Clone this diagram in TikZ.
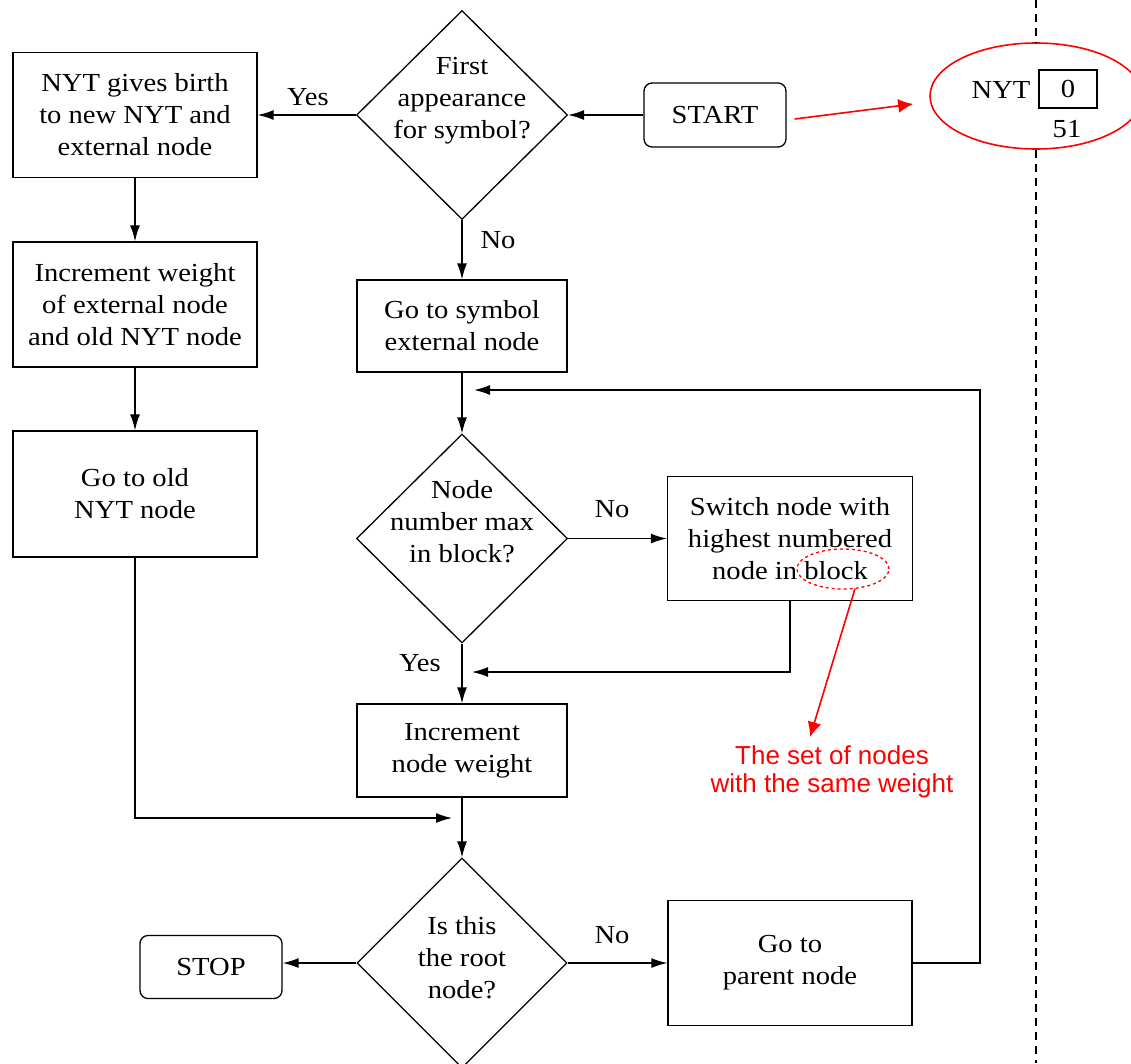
\documentclass[tikz,border=0pt]{standalone}
\usepackage{fontspec}
\setmainfont{Liberation Serif}[FakeStretch=1.1]
\newfontfamily\redfont{Liberation Sans}
\usetikzlibrary{shapes.geometric,arrows.meta,calc}
\begin{document}
\begin{tikzpicture}[x=1pt,y=-1pt,
  every node/.style={font=\fontsize{26}{32}\selectfont, align=center, inner sep=0pt},
  box/.style={draw, line width=1.3pt},
  rbox/.style={draw, line width=1.3pt, rounded corners=8pt, minimum width=142, minimum height=64},
  dia/.style={draw, line width=1.3pt, diamond, minimum width=211, minimum height=209},
  arr/.style={line width=1.4pt, -{Latex[length=16pt,width=10pt]}},
  redarr/.style={red, line width=1.6pt, -{Latex[length=15pt,width=14pt]}},
  lbl/.style={},
  divider/.style={line width=1.3pt, dash pattern=on 8pt off 6pt}
]
\clip (0,0) rectangle (1131,1063);
% left column
\node[box, minimum width=244, minimum height=125] (nyt) at (135,115) {NYT gives birth\\to new NYT and\\external node};
\node[box, minimum width=244, minimum height=125] (incw) at (135,304.5) {Increment weight\\of external node\\and old NYT node};
\node[box, minimum width=244, minimum height=126] (oldnyt) at (135,494) {Go to old\\NYT node};
% centre column
\node[dia] (d1) at (462,115) {};
\node (d1t) at (462,101) {First\\appearance\\for symbol?};
\node[box, minimum width=210, minimum height=92] (goto) at (462,326) {Go to symbol\\external node};
\node[dia] (d2) at (462,538.5) {};
\node (d2t) at (462,522) {Node\\number max\\in block?};
\node[box, minimum width=210, minimum height=93] (incn) at (462,750.5) {Increment\\node weight};
\node[dia, minimum width=210, minimum height=210] (d3) at (462,963) {};
\node (d3t) at (462,958) {Is this\\the root\\node?};
% right column
\node[rbox] (start) at (715,115) {START};
\node[box, minimum width=245, minimum height=124] (sw) at (790,538.5) {Switch node with\\highest numbered\\node in block};
\node[box, minimum width=244, minimum height=125] (parent) at (790,963) {Go to\\parent node};
\node[rbox, minimum height=63] (stop) at (211,967) {STOP};
% labels
\node[lbl] (yes1) at (308,97) {Yes};
\node[lbl] (no1) at (498,240) {No};
\node[lbl] (no2) at (612,509) {No};
\node[lbl] (yes2) at (420,663) {Yes};
\node[lbl] (no3) at (612,935) {No};
% junction coordinates
\coordinate (j1) at (452,818);
\coordinate (j2) at (472,672);
\coordinate (c1) at (980,390);
\coordinate (j3) at (474,390);
% connectors
\draw[arr] (d1.west) -- (nyt.east);
\draw[arr] (start.west) -- (d1.east);
\draw[arr] (d1.south) -- (goto.north);
\draw[arr] (nyt.south) -- (incw.north);
\draw[arr] (incw.south) -- (oldnyt.north);
\draw[arr] (goto.south) -- (d2.north);
\draw[arr] (d2.east) -- (sw.west);
\draw[arr] (d2.south) -- (incn.north);
\draw[arr] (sw.south) |- (j2);
\draw[arr] (incn.south) -- (d3.north);
\draw[arr] (oldnyt.south) |- (j1);
\draw[arr] (d3.west) -- (d3.west -| stop.east);
\draw[arr] (d3.east) -- (parent.west);
\draw[arr] (parent.east) -| (c1) -- (j3);
% annotations
\node[draw=red, line width=1.6pt, ellipse, minimum width=212, minimum height=106] (nytell) at (1036,96) {};
\node (mnyt) at (1001,90) {NYT};
\node[draw, line width=1.2pt, minimum width=58, minimum height=38] (m0) at (1068,89) {0};
\node (m51) at (1067,129) {51};
\coordinate (dtop) at (1036,0);
\coordinate (dbot) at (1036,1063);
\draw[divider] (dtop) -- (nytell.north);
\draw[divider] (nytell.south) -- (dbot);
\draw[redarr] ([xshift=8pt,yshift=-4pt]start.east) -- ([xshift=-16pt,yshift=-8pt]nytell.west);
\node[draw=red, dashed, line width=1.3pt, ellipse, minimum width=92, minimum height=40] (blockell) at (843,569) {};
\node[text=red, font=\redfont\fontsize{26}{28}\selectfont] (redtxt) at (832,772) {The set of nodes\\with the same weight};
\coordinate (rtip) at (810,737);
\draw[redarr] ([xshift=12pt,yshift=1pt]blockell.south) -- (rtip);
\end{tikzpicture}
\end{document}
